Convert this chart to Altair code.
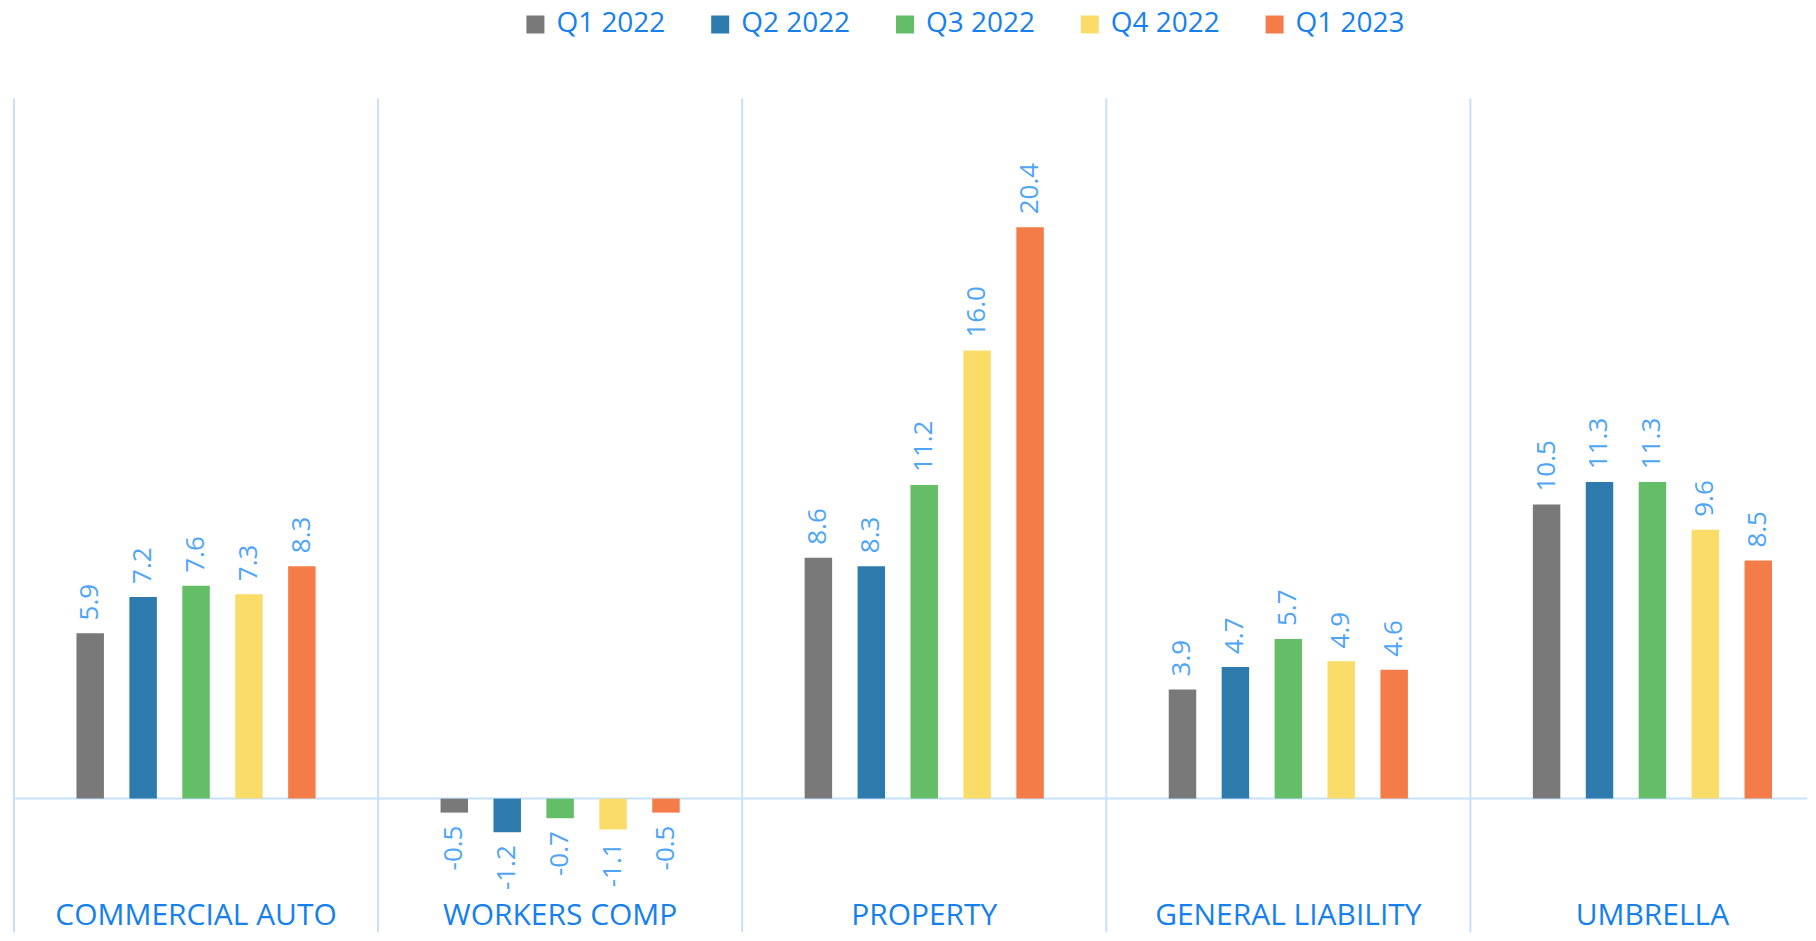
import altair as alt
import pandas as pd

categories = ["COMMERCIAL AUTO", "WORKERS COMP", "PROPERTY", "GENERAL LIABILITY", "UMBRELLA"]
quarters = ["Q1 2022", "Q2 2022", "Q3 2022", "Q4 2022", "Q1 2023"]
colors = ["#797979", "#2c7bac", "#63be67", "#f9dd68", "#f47c48"]

q1_2022 = [5.9, -0.5, 8.6, 3.9, 10.5]
q2_2022 = [7.2, -1.2, 8.3, 4.7, 11.3]
q3_2022 = [7.6, -0.7, 11.2, 5.7, 11.3]
q4_2022 = [7.3, -1.1, 16.0, 4.9, 9.6]
q1_2023 = [8.3, -0.5, 20.4, 4.6, 8.5]

series = [q1_2022, q2_2022, q3_2022, q4_2022, q1_2023]
rows = []
for q, vals in zip(quarters, series):
    for c, v in zip(categories, vals):
        rows.append({"category": c, "quarter": q, "value": v, "label": f"{v:.1f}"})
df = pd.DataFrame(rows)
cat_df = pd.DataFrame({"category": categories})
zero_df = pd.DataFrame({"value": [0]})

FONT = "Open Sans"
LINE = "#c5e1fb"
VAL_COLOR = "#4ea5f7"
CAT_COLOR = "#1580ee"

x_scale = alt.Scale(paddingInner=0, paddingOuter=0, range=[0, 1822.5])
x_enc = alt.X("category:N", sort=categories, scale=x_scale, axis=None)
x_edge = alt.X("category:N", sort=categories, scale=x_scale, axis=None, bandPosition=0)
y_enc = alt.Y(
    "value:Q",
    scale=alt.Scale(domain=[-4.78, 25], nice=False, zero=False),
    axis=None,
)
xoff = alt.XOffset("quarter:N", sort=quarters,
                   scale=alt.Scale(paddingInner=0, paddingOuter=0.94))

color_enc = alt.Color(
    "quarter:N",
    sort=quarters,
    scale=alt.Scale(domain=quarters, range=colors),
    legend=alt.Legend(
        title=None, orient="none", direction="horizontal", columns=5,
        legendX=508, legendY=-88, padding=0,
        symbolType="square", symbolSize=324, symbolStrokeWidth=0,
        labelFont=FONT, labelFontSize=28, labelColor=CAT_COLOR,
        labelOffset=7, columnPadding=40,
    ),
)

sep_lines = alt.Chart(cat_df).mark_rule(color=LINE, strokeWidth=2).encode(x=x_edge)
zero_line = alt.Chart(zero_df).mark_rule(color=LINE, strokeWidth=2).encode(y=y_enc)

bars = alt.Chart(df).mark_bar(width=27.5).encode(x=x_enc, y=y_enc, xOffset=xoff, color=color_enc)

pos_labels = alt.Chart(df).transform_filter("datum.value >= 0").mark_text(
    angle=270, align="left", baseline="middle", dx=13,
    font=FONT, fontSize=26, color=VAL_COLOR,
).encode(x=x_enc, y=y_enc, xOffset=xoff, text="label:N")

neg_labels = alt.Chart(df).transform_filter("datum.value < 0").mark_text(
    angle=270, align="right", baseline="middle", dx=-13,
    font=FONT, fontSize=26, color=VAL_COLOR,
).encode(x=x_enc, y=y_enc, xOffset=xoff, text="label:N")

cat_labels = alt.Chart(cat_df).mark_text(
    align="center", baseline="alphabetic", font=FONT, fontSize=30, color=CAT_COLOR,
).encode(x=x_enc, y=alt.datum(-4.5), text="category:N")

chart = alt.layer(sep_lines, zero_line, bars, pos_labels, neg_labels, cat_labels).properties(
    width=1795, height=835,
    padding={"left": 5, "top": 2, "right": 0, "bottom": 0},
    background="white",
).configure_view(strokeWidth=0)

chart.save("out.html", embed_options={"renderer": "svg", "actions": False})
